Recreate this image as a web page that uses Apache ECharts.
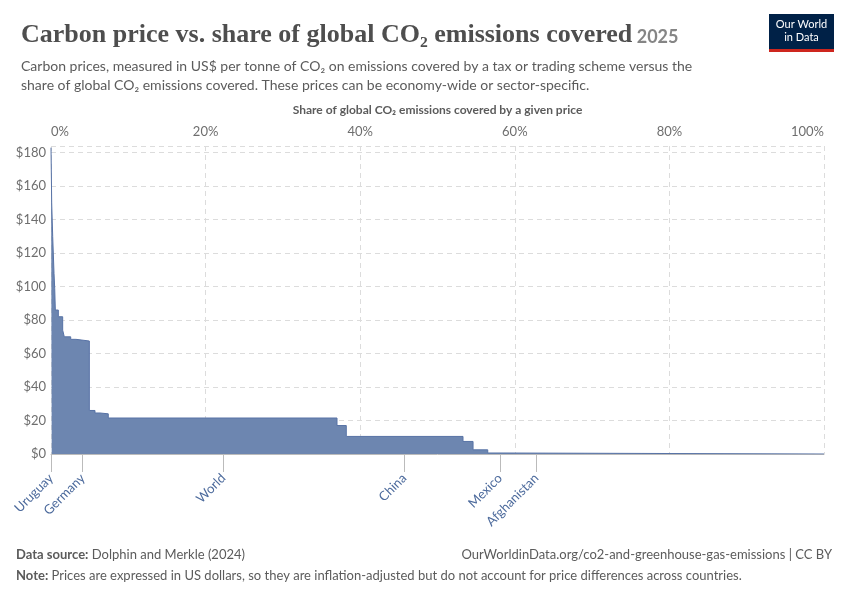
<!DOCTYPE html>
<html><head><meta charset="utf-8">
<script src="https://cdn.jsdelivr.net/npm/echarts@6/dist/echarts.min.js"></script>
<style>html,body{margin:0;padding:0;background:#fff}#c{width:850px;height:600px}</style>
</head><body><div id="c"></div>
<script>
// cumulative share start (%) and price (US$)
const shareStart = [0, 0.09, 0.22, 0.39, 0.48, 0.56, 0.95, 1.51, 1.72, 2.55, 3.23, 4.96, 5.14, 5.69, 6.34, 7.41, 37.0, 38.2, 53.3, 54.6, 56.5, 58.6, 100];
const price =      [183, 150, 130, 108, 99, 86, 82, 74, 70, 68.5, 67.5, 26, 26, 24.5, 24, 21.5, 17, 10.5, 7.5, 2.5, 0.6, 0, 0];
const countryNames = ['Uruguay', 'Germany', 'World', 'China', 'Mexico', 'Afghanistan'];
const countryPos =   [0, 4.1, 22.3, 45.7, 58.1, 62.8];
const yTicks = [0, 20, 40, 60, 80, 100, 120, 140, 160, 180];
const xTicks = [0, 20, 40, 60, 80, 100];

const chart = echarts.init(document.getElementById('c'));
const F = 'Lato, "Noto Sans", sans-serif';
const grey = '#5b5b5b';
chart.setOption({
  animation: false,
  textStyle: {fontFamily: F},
  title: [
    {text: '{t|Carbon price vs. share of global CO₂ emissions covered} {y|2025}', left: 16, top: 17,
     textStyle: {rich: {
       t: {fontFamily: '"Liberation Serif", "DejaVu Serif", serif', fontSize: 26, fontWeight: 'bold', color: '#4e4e4e'},
       y: {fontFamily: F, fontSize: 18, color: '#858585', padding: [4, 0, 0, 0]}}}},
    {text: 'Carbon prices, measured in US$ per tonne of CO₂ on emissions covered by a tax or trading scheme versus the\nshare of global CO₂ emissions covered. These prices can be economy-wide or sector-specific.',
     left: 16, top: 52, textStyle: {fontSize: 14, fontWeight: 'normal', color: '#5b5b5b', lineHeight: 19, fontFamily: F}}
  ],
  graphic: [
    {type: 'rect', shape: {x: 769, y: 14, width: 65, height: 37}, style: {fill: '#002147'}},
    {type: 'rect', shape: {x: 769, y: 49, width: 65, height: 3}, style: {fill: '#ce261e'}},
    {type: 'text', x: 801.5, y: 31, style: {text: 'Our World\nin Data', font: '11px ' + F, fill: '#fff', align: 'center', verticalAlign: 'middle', lineHeight: 13}},
    {type: 'text', left: 16, top: 548, style: {text: '{b|Data source:} Dolphin and Merkle (2024)', font: '13px ' + F, fill: grey, rich: {b: {fontWeight: 'bold', fontSize: 13, fill: grey, fontFamily: F}}}},
    {type: 'text', right: 18, top: 548, style: {text: 'OurWorldinData.org/co2-and-greenhouse-gas-emissions | CC BY', font: '13px ' + F, fill: grey}},
    {type: 'text', left: 16, top: 569, style: {text: '{b|Note:} Prices are expressed in US dollars, so they are inflation-adjusted but do not account for price differences across countries.', font: '13px ' + F, fill: grey, rich: {b: {fontWeight: 'bold', fontSize: 13, fill: grey, fontFamily: F}}}}
  ],
  grid: {left: 51, right: 26, top: 146, bottom: 146},
  xAxis: [
    {type: 'value', position: 'top', min: 0, max: 100, interval: 20,
     name: 'Share of global CO₂ emissions covered by a given price', nameLocation: 'middle', nameGap: 30,
     nameTextStyle: {fontSize: 12, fontWeight: 'bold', color: '#5b5b5b', fontFamily: F},
     axisLine: {show: false}, axisTick: {show: false},
     axisLabel: {formatter: v => v + '%', color: '#6e6e6e', fontSize: 13, margin: 8, fontFamily: F,
       alignMinLabel: 'left', alignMaxLabel: 'right'},
     splitLine: {show: true, lineStyle: {type: [5, 4], color: '#dcdcdc'}}},
    {type: 'value', position: 'bottom', min: 0, max: 100,
     axisLine: {show: true, lineStyle: {color: '#bbb'}},
     axisTick: {show: true, length: 18, customValues: countryPos, lineStyle: {color: '#bbb'}},
     axisLabel: {customValues: countryPos, rotate: 45, margin: 22, fontSize: 13, color: '#4c6a9c', fontFamily: F,
       formatter: v => { const i = countryPos.indexOf(v); return i >= 0 ? countryNames[i] : ''; }},
     splitLine: {show: false}}
  ],
  yAxis: {type: 'value', min: 0, max: 184, interval: 20,
    axisLine: {show: false}, axisTick: {show: false},
    axisLabel: {formatter: v => yTicks.includes(v) ? '$' + v : '', color: '#6e6e6e', fontSize: 13, margin: 5, fontFamily: F},
    splitLine: {show: true, lineStyle: {type: [5, 4], color: '#dcdcdc'}}},
  series: [{
    type: 'line', xAxisIndex: 1, step: 'end', symbol: 'none',
    data: shareStart.map((s, i) => [s, price[i]]),
    lineStyle: {color: '#5873a6', width: 1},
    areaStyle: {color: '#6d86b0', opacity: 1}
  }]
});
</script></body></html>
